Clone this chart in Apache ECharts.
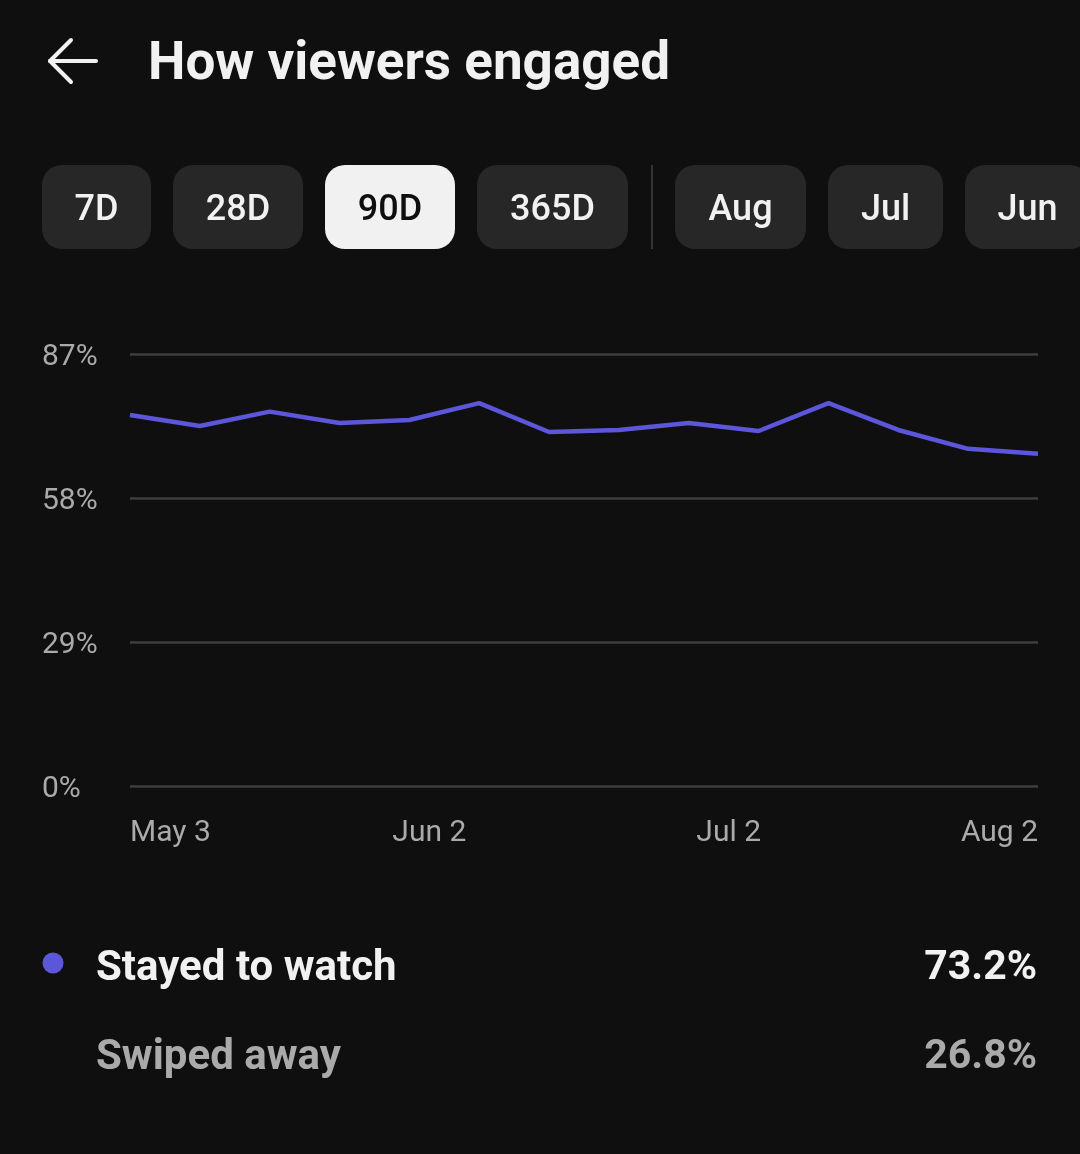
<!DOCTYPE html>
<html>
<head>
<meta charset="utf-8">
<script src="https://cdn.jsdelivr.net/npm/echarts@6/dist/echarts.min.js"></script>
<style>
  html, body { margin: 0; padding: 0; background: #0f0f0f; }
  #container { width: 1080px; height: 1154px; }
</style>
</head>
<body>
<div id="container"></div>
<script>
// weekly points, day offset from May 3
var pointDays = [0, 7, 14, 21, 28, 35, 42, 49, 56, 63, 70, 77, 84, 91];
var stayedPct = [74.7, 72.5, 75.4, 73.1, 73.7, 77.1, 71.3, 71.7, 73.1, 71.5, 77.1, 71.7, 67.9, 66.9];

var tickDays = [0, 30, 60, 91];
var tickLabels = ['May 3', 'Jun 2', 'Jul 2', 'Aug 2'];
var yTicks = [0, 29, 58, 87];

var rangeButtons = ['7D', '28D', '90D', '365D'];
var monthButtons = ['Aug', 'Jul', 'Jun'];
var activeButton = '90D';

var legendNames = ['Stayed to watch', 'Swiped away'];
var legendValues = ['73.2%', '26.8%'];

var FONT = 'Roboto, "Noto Sans", sans-serif';
var lineColor = '#5c56da';

var dom = document.getElementById('container');
var myChart = echarts.init(dom, null, {renderer: 'canvas'});

var seriesData = [];
for (var i = 0; i < pointDays.length; i++) {
    seriesData.push([pointDays[i], stayedPct[i]]);
}

// buttons row (UI chrome)
var btnX = [42, 173, 325, 477, 675, 828, 965];
var btnW = [109, 130, 130, 151, 131, 115, 125];
var btnText = rangeButtons.concat(monthButtons);
var graphics = [];

// back arrow
graphics.push({
    type: 'polyline',
    shape: {points: [[71, 40], [50, 61], [71, 82]]},
    style: {stroke: '#f1f1f1', lineWidth: 4, fill: null, lineCap: 'round', lineJoin: 'round'}
});
graphics.push({
    type: 'line',
    shape: {x1: 50, y1: 61, x2: 96, y2: 61},
    style: {stroke: '#f1f1f1', lineWidth: 4, lineCap: 'round'}
});
graphics.push({
    type: 'text',
    x: 148, y: 66,
    style: {text: 'How viewers engaged', fill: '#f1f1f1', font: 'bold 53px ' + FONT, verticalAlign: 'middle'}
});

for (var b = 0; b < btnText.length; b++) {
    var active = btnText[b] === activeButton;
    graphics.push({
        type: 'rect',
        shape: {x: btnX[b], y: 165, width: btnW[b], height: 84, r: 20},
        style: {fill: active ? '#f1f1f1' : '#272727'}
    });
    graphics.push({
        type: 'text',
        x: btnX[b] + btnW[b] / 2, y: 211,
        style: {
            text: btnText[b], fill: active ? '#0f0f0f' : '#f1f1f1',
            font: '500 36px ' + FONT, align: 'center', verticalAlign: 'middle'
        }
    });
}
// divider between range and month buttons
graphics.push({
    type: 'rect',
    shape: {x: 651, y: 165, width: 2, height: 84},
    style: {fill: '#333333'}
});

// legend / summary rows
graphics.push({
    type: 'circle',
    shape: {cx: 53, cy: 963, r: 10.5},
    style: {fill: lineColor}
});
var rowY = [969, 1058];
var rowColor = ['#f1f1f1', '#aaaaaa'];
for (var r = 0; r < legendNames.length; r++) {
    graphics.push({
        type: 'text', x: 96, y: rowY[r],
        style: {text: legendNames[r], fill: rowColor[r], font: 'bold 42px ' + FONT, verticalAlign: 'middle'}
    });
    graphics.push({
        type: 'text', x: 1037, y: rowY[r],
        style: {text: legendValues[r], fill: rowColor[r], font: 'bold 41px ' + FONT, align: 'right', verticalAlign: 'middle'}
    });
}

var option = {
    backgroundColor: '#0f0f0f',
    animation: false,
    textStyle: {fontFamily: FONT},
    grid: {left: 130, right: 42, top: 354, bottom: 368, containLabel: false},
    xAxis: {
        type: 'value',
        min: pointDays[0],
        max: pointDays[pointDays.length - 1],
        axisLine: {show: false},
        axisTick: {show: false},
        splitLine: {show: false},
        axisLabel: {
            customValues: tickDays,
            color: '#aaaaaa',
            fontSize: 30,
            fontFamily: FONT,
            margin: 32,
            alignMinLabel: 'left',
            alignMaxLabel: 'right',
            formatter: function (v) {
                var idx = tickDays.indexOf(v);
                return idx >= 0 ? tickLabels[idx] : '';
            }
        }
    },
    yAxis: {
        type: 'value',
        min: yTicks[0],
        max: yTicks[yTicks.length - 1],
        interval: yTicks[1] - yTicks[0],
        axisLine: {show: false},
        axisTick: {show: false},
        splitLine: {lineStyle: {color: '#3e3e3e', width: 2.5}},
        axisLabel: {
            color: '#aaaaaa',
            fontSize: 30,
            fontFamily: FONT,
            align: 'left',
            margin: 88,
            formatter: function (v) { return '{p|' + v + '%}'; },
            rich: {
                p: {color: '#aaaaaa', fontSize: 30, fontFamily: FONT, padding: [6, 0, 0, 0]}
            }
        }
    },
    series: [{
        name: legendNames[0],
        type: 'line',
        data: seriesData,
        symbol: 'none',
        lineStyle: {color: lineColor, width: 4.5},
        z: 5
    }],
    graphic: graphics
};

myChart.setOption(option);
</script>
</body>
</html>
